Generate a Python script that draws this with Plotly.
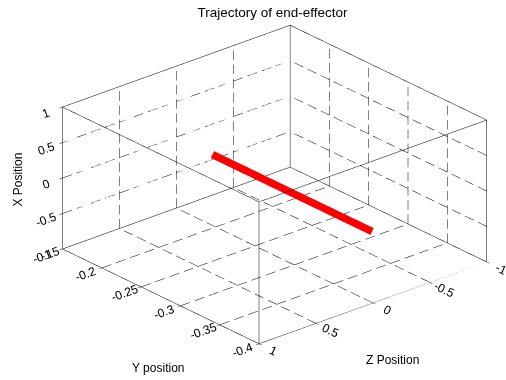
import plotly.graph_objects as go

# Trajectory samples: Y position, Z position, X position
traj_y = [-0.196, -0.215, -0.24, -0.265, -0.29, -0.31, -0.335, -0.36, -0.38, -0.399]
traj_z = [0.0, 0.0, 0.0, 0.0, 0.0, 0.0, 0.0, 0.0, 0.0, 0.0]
traj_x = [0.0, 0.0, 0.0, 0.0, 0.0, 0.0, 0.0, 0.0, 0.0, 0.0]

y_ticks = [-0.4, -0.35, -0.3, -0.25, -0.2, -0.15]
z_ticks = [-1, -0.5, 0, 0.5, 1]
x_ticks = [-1, -0.5, 0, 0.5, 1]
y_range = [-0.4, -0.15]
z_range = [-1, 1]
x_range = [-1, 1]

# dash counts along each direction (style only)
N_DASH = {"y": 15, "z": 16, "x": 10}
DASH_ON = 0.67

fig = go.Figure()

Y0, Y1 = y_range
Z0, Z1 = z_range
X0, X1 = x_range
inner_y = [t for t in y_ticks if Y0 < t < Y1]
inner_z = [t for t in z_ticks if Z0 < t < Z1]
inner_x = [t for t in x_ticks if X0 < t < X1]
gx, gy, gz = [], [], []

def dashed(a, b, n):
    for k in range(n):
        f0 = k / n
        f1 = (k + DASH_ON) / n
        p = [a[i] + (b[i] - a[i]) * f0 for i in range(3)]
        q = [a[i] + (b[i] - a[i]) * f1 for i in range(3)]
        gx.extend([p[0], q[0], None]); gy.extend([p[1], q[1], None]); gz.extend([p[2], q[2], None])

# dashed grid on the three back planes (bottom X=min, wall Y=max, wall Z=min)
for t in inner_y:
    dashed((t, Z1, X0), (t, Z0, X0), N_DASH["z"])      # bottom, along Z
    dashed((t, Z0, X0), (t, Z0, X1), N_DASH["x"])      # Z=min wall, vertical
for t in inner_z:
    dashed((Y0, t, X0), (Y1, t, X0), N_DASH["y"])      # bottom, along Y
    dashed((Y1, t, X0), (Y1, t, X1), N_DASH["x"])      # Y=max wall, vertical
for t in inner_x:
    dashed((Y0, Z0, t), (Y1, Z0, t), N_DASH["y"])      # Z=min wall
    dashed((Y1, Z1, t), (Y1, Z0, t), N_DASH["z"])      # Y=max wall
fig.add_trace(go.Scatter3d(x=gx, y=gy, z=gz, mode="lines",
                           line=dict(color="black", width=1),
                           showlegend=False, hoverinfo="skip"))

# box edges
bx, by, bz = [], [], []
def bseg(a, b):
    bx.extend([a[0], b[0], None]); by.extend([a[1], b[1], None]); bz.extend([a[2], b[2], None])
for zz in z_range:
    for xx in x_range:
        bseg((Y0, zz, xx), (Y1, zz, xx))
for yy in y_range:
    for xx in x_range:
        bseg((yy, Z0, xx), (yy, Z1, xx))
for yy in y_range:
    for zz in z_range:
        bseg((yy, zz, X0), (yy, zz, X1))
fig.add_trace(go.Scatter3d(x=bx, y=by, z=bz, mode="lines",
                           line=dict(color="black", width=1),
                           showlegend=False, hoverinfo="skip"))

fig.add_trace(go.Scatter3d(
    x=traj_y, y=traj_z, z=traj_x, mode="lines",
    line=dict(color="#ff0000", width=15), showlegend=False, hoverinfo="skip"))

FONT = "Liberation Sans, Arial, sans-serif"
font = dict(family=FONT, size=12, color="black")

def ax(rng, ticks):
    return dict(
        title=dict(text=""), range=rng, tickvals=ticks,
        ticktext=[("%g" % t) for t in ticks], tickfont=font,
        showbackground=False, showgrid=False,
        showline=False, zeroline=False,
        ticks="inside", ticklen=4, tickcolor="black",
        showspikes=False, autorange=False)

k = 1.63
d = 0.117
dist = 3.0
cx, cy = 0.654 * d, 0.757 * d
fig.update_layout(
    template="none",
    width=506, height=380, margin=dict(l=0, r=0, t=0, b=0),
    paper_bgcolor="white", plot_bgcolor="white",
    font=dict(family=FONT, size=12, color="black"),
    title=dict(text="Trajectory of end-effector", x=0.5385, y=0.968, xanchor="center",
               yanchor="middle", font=dict(family=FONT, size=13.5, color="black")),
    scene=dict(
        domain=dict(x=[0.0, 1.0], y=[0.03, 1.0]),
        xaxis=ax(y_range, y_ticks),
        yaxis=ax(z_range, z_ticks),
        zaxis=ax(x_range, x_ticks),
        aspectmode="manual", aspectratio=dict(x=1 * k, y=1 * k, z=0.519 * k),
        camera=dict(projection=dict(type="orthographic"),
                    eye=dict(x=cx - 0.688 * dist, y=cy + 0.594 * dist, z=0.4165 * dist),
                    up=dict(x=0, y=0, z=1), center=dict(x=cx, y=cy, z=0)),
    ),
    annotations=[
        dict(text="Y position", x=0.312, y=0.032, xref="paper", yref="paper",
             showarrow=False, font=font, xanchor="center", yanchor="middle"),
        dict(text="Z Position", x=0.775, y=0.053, xref="paper", yref="paper",
             showarrow=False, font=font, xanchor="center", yanchor="middle"),
        dict(text="X Position", x=0.036, y=0.528, xref="paper", yref="paper",
             showarrow=False, font=font, xanchor="center", yanchor="middle", textangle=-90),
    ],
)
fig.write_html("out.html")
